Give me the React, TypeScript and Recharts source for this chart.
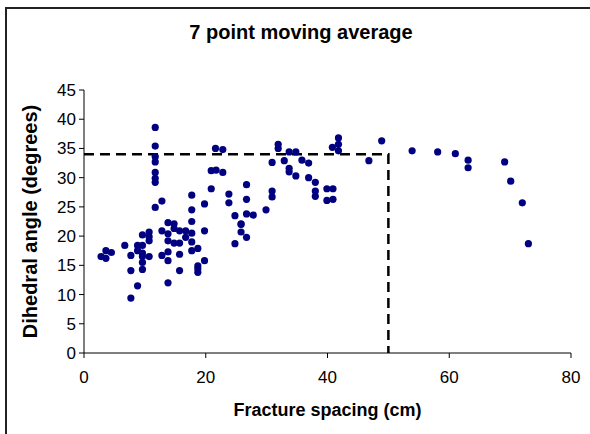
import React from 'react';
import { ScatterChart, Scatter, XAxis, YAxis, Label } from 'recharts';

const spacingCm = [
  11.7, 11.7, 11.7, 11.7, 11.7, 11.7, 11.7, 12.8, 11.7,
  21.6, 22.8, 20.9, 21.7, 22.8, 20.9, 23.8, 23.8, 26.7, 26.7, 26.7, 24.8, 25.8,
  17.7, 17.7, 17.7, 19.8,
  12.8, 13.8, 14.8, 14.8, 13.8, 15.7, 16.7, 17.7, 19.8, 16.7, 13.8, 14.8, 15.7, 17.7, 17.7, 18.7,
  9.6, 10.7, 10.7, 10.7, 12.8, 13.8, 13.8, 15.7, 15.7, 18.7, 18.7, 18.7, 19.8, 13.8,
  6.7, 3.6, 4.5, 2.8, 3.6, 7.7, 8.8, 9.6, 8.8, 9.6, 10.7, 9.6, 9.6, 9.6, 7.7, 8.8, 7.7,
  24.8, 25.8, 25.8, 26.7,
  27.8, 29.9, 30.9, 30.9, 30.9, 31.9, 31.9, 32.9, 33.7, 34.8, 33.7, 33.7, 34.8, 35.8, 36.9, 36.9,
  38.0, 38.0, 38.0, 39.9, 40.9, 39.9, 40.9, 40.8, 41.8, 41.8, 41.8, 46.8, 48.9,
  53.9, 58.1, 61.0, 63.1, 63.1, 69.1, 70.1, 72.0, 73.0,
];

const dihedralDeg = [
  38.6, 35.4, 33.6, 32.7, 30.9, 29.9, 29.2, 26.0, 24.9,
  35.0, 34.8, 31.2, 31.3, 30.9, 28.1, 27.2, 25.7, 28.8, 26.3, 23.8, 23.5, 22.0,
  27.0, 24.5, 22.5, 25.5,
  20.9, 22.3, 22.1, 21.3, 20.4, 20.9, 20.9, 20.5, 20.9, 19.8, 19.2, 18.8, 18.8, 19.0, 17.5, 17.9,
  20.2, 20.7, 19.9, 19.2, 16.7, 17.3, 15.8, 16.9, 14.1, 14.9, 14.4, 13.8, 15.8, 12.0,
  18.4, 17.5, 17.2, 16.5, 16.2, 16.7, 18.4, 18.4, 17.5, 17.1, 16.5, 16.5, 15.5, 14.3, 14.1, 11.5, 9.4,
  18.7, 22.1, 20.7, 19.8,
  23.6, 24.5, 27.7, 26.7, 32.6, 35.7, 35.0, 32.9, 34.4, 34.4, 31.6, 31.0, 30.3, 33.0, 32.5, 30.0,
  29.2, 27.7, 26.8, 28.1, 28.1, 26.1, 26.3, 35.2, 36.8, 35.7, 34.6, 32.9, 36.3,
  34.6, 34.4, 34.1, 33.0, 31.7, 32.7, 29.4, 25.7, 18.7,
];

const guideX = [0, 50, 50];
const guideY = [34, 34, 0];

const xTicks = [0, 20, 40, 60, 80];
const yTicks = [0, 5, 10, 15, 20, 25, 30, 35, 40, 45];

const points = spacingCm.map((x, i) => ({ x, y: dihedralDeg[i] }));
const guide = guideX.map((x, i) => ({ x, y: guideY[i] }));

const FONT = '"Liberation Sans", Arial, sans-serif';

export default function App() {
  return (
    <div style={{ position: 'absolute', left: 0, top: 0, width: 590, height: 434, background: '#fff', fontFamily: FONT }}>
      <div
        style={{
          position: 'absolute', left: 5, top: 7, width: 600, height: 440,
          borderLeft: '2px solid #222', borderTop: '2px solid #222', boxSizing: 'border-box',
        }}
      />
      <div
        style={{
          position: 'absolute', left: 0, top: 22, width: 602, textAlign: 'center',
          fontSize: 20, lineHeight: '20px', fontWeight: 'bold', color: '#000',
        }}
      >
        7 point moving average
      </div>
      <div style={{ position: 'absolute', left: 0, top: 0 }}>
        <ScatterChart width={590} height={434} margin={{ top: 90, right: 19, bottom: 16, left: 24 }}>
          <XAxis
            type="number"
            dataKey="x"
            domain={[0, 80]}
            ticks={xTicks}
            interval={0}
            height={65}
            tickSize={5}
            tickMargin={13}
            stroke="#000"
            tick={{ fill: '#000', fontSize: 17, fontFamily: FONT }}
            allowDataOverflow
          >
            <Label
              value="Fracture spacing (cm)"
              position="insideBottom"
              offset={2}
              style={{ fontWeight: 'bold', fontSize: 18, fill: '#000', fontFamily: FONT }}
            />
          </XAxis>
          <YAxis
            type="number"
            dataKey="y"
            domain={[0, 45]}
            ticks={yTicks}
            interval={0}
            width={60}
            tickSize={5}
            tickMargin={3}
            stroke="#000"
            tick={{ fill: '#000', fontSize: 17, fontFamily: FONT }}
            allowDataOverflow
          >
            <Label
              value="Dihedral angle (degrees)"
              angle={-90}
              position="insideLeft"
              offset={6}
              style={{ textAnchor: 'middle', fontWeight: 'bold', fontSize: 20, fill: '#000', fontFamily: FONT }}
            />
          </YAxis>
          <Scatter
            data={guide}
            line={{ stroke: '#000', strokeWidth: 2.5, strokeDasharray: '10 6' }}
            lineType="joint"
            shape={() => <g />}
            isAnimationActive={false}
          />
          <Scatter
            data={points}
            fill="#000080"
            isAnimationActive={false}
            shape={(p: any) => <circle cx={p.cx} cy={p.cy} r={3.6} fill="#000080" />}
          />
        </ScatterChart>
      </div>
    </div>
  );
}
